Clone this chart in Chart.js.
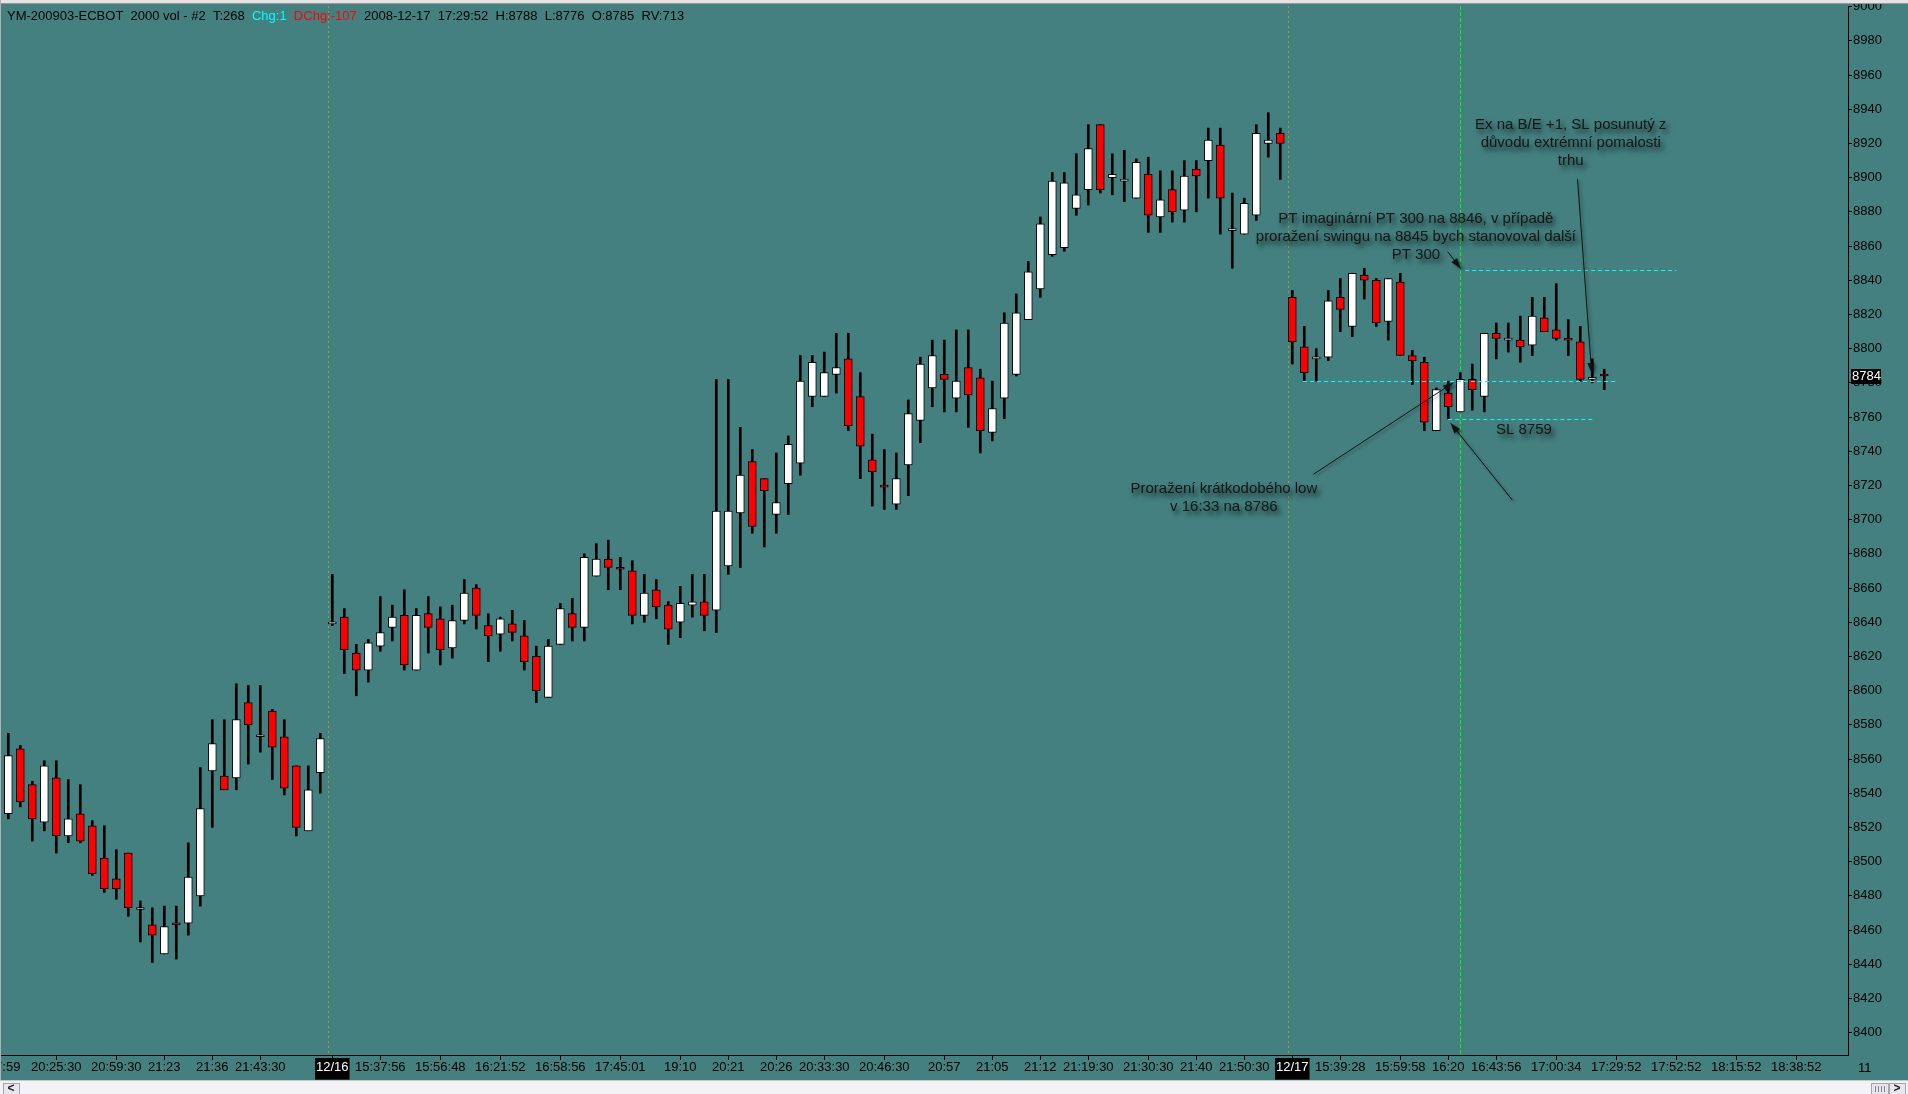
<!DOCTYPE html>
<html>
<head>
<meta charset="utf-8">
<script src="https://cdn.jsdelivr.net/npm/chart.js@4.4.1/dist/chart.umd.min.js"></script>
<style>
  html, body { margin: 0; padding: 0; background: #448080; overflow: hidden; }
  canvas { display: block; }
</style>
</head>
<body>
<canvas id="chart" width="1908" height="1094"></canvas>
<script>
// YM-200903-ECBOT, 2000 volume bars, 3 sessions (12/15 evening, 12/16, 12/17)

const opens = [
  8528, 8566, 8545, 8523, 8549, 8515, 8528, 8521, 8502, 8490,
  8505, 8472, 8463, 8446, 8464, 8464, 8480, 8553, 8550, 8549,
  8593, 8573, 8588, 8573, 8556, 8518, 8552, 8639, 8643, 8622,
  8612, 8626, 8637, 8644, 8612, 8645, 8642, 8625, 8641, 8660,
  8638, 8633, 8639, 8632, 8620, 8596, 8627, 8645, 8637, 8667,
  8677, 8672, 8670, 8644, 8659, 8650, 8640, 8650, 8652, 8647,
  8673, 8704, 8734, 8724, 8703, 8721, 8733, 8772, 8772, 8785,
  8794, 8772, 8735, 8720, 8709, 8732, 8758, 8777, 8785, 8771,
  8789, 8783, 8751, 8771, 8785, 8817, 8835, 8855, 8859, 8882,
  8893, 8931, 8900, 8898, 8888, 8902, 8877, 8893, 8881, 8905,
  8910, 8919, 8869, 8867, 8878, 8920, 8926, 8830, 8801, 8794,
  8795, 8830, 8813, 8843, 8840, 8816, 8839, 8796, 8792, 8752,
  8774, 8763, 8782, 8772, 8809, 8805, 8805, 8802, 8818, 8811,
  8806, 8804, 8782, 8785
];
const highs = [
  8575, 8568, 8547, 8559, 8559, 8548, 8545, 8524, 8521, 8507,
  8505, 8477, 8473, 8474, 8474, 8511, 8555, 8583, 8583, 8604,
  8603, 8603, 8589, 8583, 8556, 8556, 8575, 8668, 8648, 8627,
  8630, 8655, 8650, 8659, 8648, 8655, 8649, 8650, 8665, 8662,
  8645, 8643, 8647, 8641, 8626, 8630, 8651, 8654, 8680, 8686,
  8688, 8678, 8676, 8668, 8665, 8652, 8661, 8668, 8668, 8782,
  8782, 8754, 8741, 8724, 8739, 8749, 8796, 8796, 8798, 8809,
  8809, 8786, 8750, 8741, 8739, 8770, 8795, 8805, 8805, 8811,
  8811, 8788, 8781, 8821, 8832, 8851, 8877, 8903, 8903, 8914,
  8931, 8931, 8914, 8916, 8911, 8912, 8904, 8904, 8910, 8910,
  8929, 8929, 8891, 8888, 8931, 8938, 8929, 8834, 8813, 8800,
  8834, 8841, 8844, 8847, 8841, 8841, 8844, 8799, 8795, 8777,
  8781, 8786, 8791, 8809, 8815, 8815, 8819, 8830, 8830, 8838,
  8817, 8813, 8794, 8788
];
const lows = [
  8525, 8532, 8512, 8518, 8505, 8511, 8511, 8492, 8482, 8478,
  8468, 8453, 8441, 8446, 8443, 8457, 8474, 8520, 8542, 8542,
  8557, 8564, 8548, 8539, 8515, 8518, 8540, 8638, 8610, 8597,
  8605, 8623, 8629, 8612, 8612, 8622, 8615, 8619, 8639, 8636,
  8617, 8623, 8629, 8612, 8593, 8596, 8627, 8629, 8629, 8667,
  8659, 8659, 8639, 8640, 8642, 8627, 8631, 8643, 8635, 8634,
  8668, 8672, 8692, 8684, 8692, 8703, 8726, 8766, 8772, 8774,
  8752, 8724, 8708, 8706, 8706, 8714, 8745, 8766, 8763, 8763,
  8754, 8739, 8746, 8759, 8784, 8817, 8830, 8854, 8857, 8878,
  8884, 8891, 8890, 8886, 8888, 8868, 8868, 8874, 8874, 8880,
  8888, 8867, 8847, 8867, 8875, 8912, 8899, 8791, 8781, 8781,
  8793, 8810, 8807, 8829, 8813, 8805, 8796, 8779, 8752, 8752,
  8759, 8763, 8764, 8763, 8794, 8798, 8792, 8796, 8810, 8805,
  8796, 8781, 8780, 8776
];
const closes = [
  8562, 8535, 8525, 8556, 8515, 8525, 8512, 8493, 8484, 8484,
  8473, 8473, 8457, 8462, 8463, 8491, 8531, 8569, 8542, 8583,
  8580, 8573, 8567, 8543, 8520, 8542, 8572, 8640, 8624, 8612,
  8628, 8634, 8643, 8615, 8644, 8637, 8624, 8641, 8657, 8644,
  8632, 8642, 8634, 8617, 8600, 8626, 8648, 8637, 8678, 8677,
  8672, 8671, 8644, 8657, 8649, 8636, 8651, 8652, 8644, 8705,
  8705, 8726, 8696, 8717, 8710, 8744, 8781, 8792, 8786, 8789,
  8755, 8743, 8728, 8719, 8724, 8762, 8791, 8796, 8782, 8781,
  8773, 8752, 8765, 8815, 8821, 8845, 8873, 8898, 8897, 8890,
  8917, 8893, 8902, 8898, 8909, 8878, 8887, 8880, 8901, 8901,
  8922, 8888, 8869, 8885, 8926, 8922, 8920, 8804, 8786, 8794,
  8828, 8823, 8844, 8840, 8815, 8841, 8796, 8793, 8757, 8776,
  8766, 8782, 8776, 8809, 8806, 8805, 8801, 8819, 8810, 8806,
  8805, 8782, 8783, 8784
];

// time axis: bar index of each tick and its label
const tickBars = [-1.1, 4, 9, 13, 17, 21, 27, 31, 36, 41, 46, 51, 56, 60, 64, 68, 73, 78,
  82, 86, 90, 95, 99, 103, 107, 111, 116, 120, 124, 129, 134, 139, 144, 149];
const tickLabels = ['20:17:59', '20:25:30', '20:59:30', '21:23', '21:36', '21:43:30',
  '12/16', '15:37:56', '15:56:48', '16:21:52', '16:58:56', '17:45:01', '19:10', '20:21',
  '20:26', '20:33:30', '20:46:30', '20:57', '21:05', '21:12', '21:19:30', '21:30:30',
  '21:40', '21:50:30', '12/17', '15:39:28', '15:59:58', '16:20', '16:43:56', '17:00:34',
  '17:29:52', '17:52:52', '18:15:52', '18:38:52'];

const sessionStarts = [27, 107];
const signalBar = 121;

// dashed trade levels: price, first bar, last bar
const levels = [
  { price: 8846, from: 121.4, to: 139.0 },
  { price: 8781, from: 107.9, to: 134.0 },
  { price: 8759, from: 120.0, to: 132.1 }
];

const notes = [
  { lines: ['Ex na B/E +1, SL posunutý z', 'důvodu extrémní pomalosti', 'trhu'], bar: 130.2, price: 8930.8 },
  { lines: ['PT imaginární PT 300 na 8846, v případě', 'proražení swingu na 8845 bych stanovoval další', 'PT 300'], bar: 117.3, price: 8875.8 },
  { lines: ['Proražení krátkodobého low', 'v 16:33 na 8786'], bar: 101.3, price: 8717.9 },
  { lines: ['SL 8759'], bar: 126.3, price: 8752.7 }
];
const arrows = [
  { from: [130.77, 8899.2], to: [131.95, 8785.6] },
  { from: [119.95, 8856.7], to: [121.03, 8847.0] },
  { from: [108.75, 8726.5], to: [120.42, 8780.1] },
  { from: [125.33, 8711.5], to: [120.20, 8756.4] }
];

const header = [
  ['YM-200903-ECBOT  2000 vol - #2  T:268', '#000000'],
  ['Chg:1', '#00ffff'],
  ['DChg:-107', '#ff0000'],
  ['2008-12-17  17:29:52  H:8788  L:8776  O:8785  RV:713', '#000000']
];

const BG = '#448080';
const FONT = '"Liberation Sans", Arial, sans-serif';

const bodies = opens.map((o, i) => ({ x: i, y: [o, closes[i]] }));
const wicks = lows.map((l, i) => ({ x: i, y: [l, highs[i]] }));
const bodyColors = opens.map((o, i) => (closes[i] < o ? '#ff0000' : '#ffffff'));

function arrow(ctx, x1, y1, x2, y2) {
  const a = Math.atan2(y2 - y1, x2 - x1);
  ctx.beginPath();
  ctx.moveTo(x1, y1);
  ctx.lineTo(x2, y2);
  ctx.stroke();
  ctx.beginPath();
  ctx.moveTo(x2, y2);
  ctx.lineTo(x2 - 11 * Math.cos(a - 0.33), y2 - 11 * Math.sin(a - 0.33));
  ctx.lineTo(x2 - 11 * Math.cos(a + 0.33), y2 - 11 * Math.sin(a + 0.33));
  ctx.closePath();
  ctx.fill();
}

const overlay = {
  id: 'overlay',
  beforeDraw(chart) {
    const c = chart.ctx;
    c.save();
    c.fillStyle = BG;
    c.fillRect(0, 0, chart.width, chart.height);
    c.restore();
  },
  beforeDatasetsDraw(chart) {
    const c = chart.ctx, x = chart.scales.x, area = chart.chartArea;
    c.save();
    c.lineWidth = 1;
    // session separators
    c.strokeStyle = '#a0a030';
    c.setLineDash([2, 3]);
    sessionStarts.forEach(b => {
      const px = Math.round(x.getPixelForValue(b - 0.38)) + 0.5;
      c.beginPath(); c.moveTo(px, area.top); c.lineTo(px, area.bottom); c.stroke();
    });
    // entry bar marker
    c.strokeStyle = '#00ff00';
    c.setLineDash([4, 2]);
    const gx = Math.round(x.getPixelForValue(signalBar)) + 0.5;
    c.beginPath(); c.moveTo(gx, area.top); c.lineTo(gx, area.bottom); c.stroke();
    c.restore();
  },
  afterDatasetsDraw(chart) {
    const c = chart.ctx, x = chart.scales.x, y = chart.scales.y;
    c.save();
    c.lineWidth = 1;
    c.strokeStyle = '#00ffff';
    c.setLineDash([4, 3]);
    levels.forEach(l => {
      const py = Math.round(y.getPixelForValue(l.price)) + 0.5;
      c.beginPath();
      c.moveTo(x.getPixelForValue(l.from), py);
      c.lineTo(x.getPixelForValue(l.to), py);
      c.stroke();
    });
    c.setLineDash([]);
    c.shadowColor = 'rgba(0,0,0,0.45)';
    c.shadowBlur = 3;
    c.shadowOffsetX = 2;
    c.shadowOffsetY = 2;
    c.strokeStyle = '#111';
    c.fillStyle = '#111';
    arrows.forEach(a => {
      arrow(c, x.getPixelForValue(a.from[0]), y.getPixelForValue(a.from[1]),
        x.getPixelForValue(a.to[0]), y.getPixelForValue(a.to[1]));
    });
    c.font = '15px ' + FONT;
    c.textAlign = 'center';
    c.textBaseline = 'middle';
    c.shadowColor = 'rgba(0,0,0,0.7)';
    c.shadowBlur = 5;
    c.shadowOffsetX = 3;
    c.shadowOffsetY = 4;
    c.fillStyle = '#161616';
    notes.forEach(n => {
      const px = x.getPixelForValue(n.bar), py = y.getPixelForValue(n.price);
      n.lines.forEach((t, k) => c.fillText(t, px, py + k * 18));
    });
    c.restore();
  },
  afterDraw(chart) {
    const c = chart.ctx, y = chart.scales.y, W = chart.width, H = chart.height;
    c.save();
    // header info line
    c.font = '13px ' + FONT;
    c.textBaseline = 'middle';
    c.textAlign = 'left';
    let hx = 7;
    const gap = c.measureText('  ').width;
    header.forEach(([t, col]) => {
      c.fillStyle = col;
      c.fillText(t, hx, 16);
      hx += c.measureText(t).width + gap;
    });
    // last price marker
    const last = closes[closes.length - 1];
    const ly = y.getPixelForValue(last);
    c.fillStyle = '#000';
    c.fillRect(1851, Math.round(ly) - 7, 30, 15);
    c.fillStyle = '#fff';
    c.fillText(String(last), 1852, ly + 0.5);
    // "11" under the price axis
    c.fillStyle = '#000';
    c.fillText('11', 1858, 1068);
    // window frame
    c.fillStyle = '#e4e4e4';
    c.fillRect(0, 0, W, 3);
    c.fillStyle = '#9a9a9a';
    c.fillRect(0, 3, W, 1);
    c.fillStyle = '#b0b0b0';
    c.fillRect(0, 0, 1, H);
    // scrollbar
    c.fillStyle = '#c8c8cc';
    c.fillRect(0, 1080, W, 1);
    c.fillStyle = '#f3f3f6';
    c.fillRect(0, 1081, W, H - 1081);
    [[3, '<'], [1889, '>']].forEach(([bx, s]) => {
      c.fillStyle = '#e8e8ec';
      c.fillRect(bx, 1083, 16, 11);
      c.strokeStyle = '#a6a6aa';
      c.strokeRect(bx + 0.5, 1083.5, 16, 11);
      c.fillStyle = '#222';
      c.font = 'bold 12px ' + FONT;
      c.textAlign = 'center';
      c.fillText(s, bx + 8, 1089);
    });
    c.fillStyle = '#e6e6ea';
    c.fillRect(1871, 1083, 17, 11);
    c.strokeStyle = '#a6a6aa';
    c.strokeRect(1871.5, 1083.5, 17, 11);
    c.fillStyle = '#888';
    for (let k = 0; k < 4; k++) c.fillRect(1875 + k * 3, 1086, 1, 6);
    c.restore();
  }
};

new Chart(document.getElementById('chart').getContext('2d'), {
  type: 'bar',
  data: {
    datasets: [
      {
        data: bodies,
        backgroundColor: bodyColors,
        borderColor: '#000',
        borderWidth: 1,
        borderSkipped: false,
        barThickness: 8,
        minBarLength: 2,
        grouped: false,
        order: 1
      },
      {
        data: wicks,
        backgroundColor: '#000',
        borderWidth: 0,
        barThickness: 2,
        grouped: false,
        order: 2
      }
    ]
  },
  options: {
    responsive: false,
    animation: false,
    events: [],
    layout: { autoPadding: false, padding: { left: 1, top: 6, right: 0, bottom: 12 } },
    plugins: { legend: { display: false }, tooltip: { enabled: false } },
    scales: {
      x: {
        type: 'linear',
        min: -0.608,
        max: 153.31,
        offset: false,
        grid: { offset: false, drawOnChartArea: false, color: '#000', tickLength: 5 },
        border: { color: '#000' },
        ticks: {
          autoSkip: false,
          maxRotation: 0,
          padding: 0,
          font: { family: FONT, size: 13 },
          color: ctx => (tickLabels[ctx.index] || '').includes('/') ? '#fff' : '#000',
          showLabelBackdrop: ctx => (tickLabels[ctx.index] || '').includes('/'),
          backdropColor: '#000',
          backdropPadding: { top: 2, bottom: 4, left: 1, right: 1 },
          callback: v => {
            const k = tickBars.indexOf(v);
            return k >= 0 ? tickLabels[k] : '';
          }
        },
        afterBuildTicks: scale => { scale.ticks = tickBars.map(v => ({ value: v })); },
        afterFit: scale => { scale.height = 27; scale.paddingLeft = 0; scale.paddingRight = 0; }
      },
      y: {
        position: 'right',
        min: 8386.9,
        max: 9000.4,
        grid: { drawOnChartArea: false, color: '#000', tickLength: 4 },
        border: { color: '#000' },
        ticks: {
          stepSize: 20,
          includeBounds: false,
          padding: 1,
          color: '#000',
          font: { family: FONT, size: 13 },
          callback: v => String(v)
        },
        afterFit: scale => { scale.width = 60; scale.paddingTop = 0; scale.paddingBottom = 0; }
      }
    }
  },
  plugins: [overlay]
});
</script>
</body>
</html>
